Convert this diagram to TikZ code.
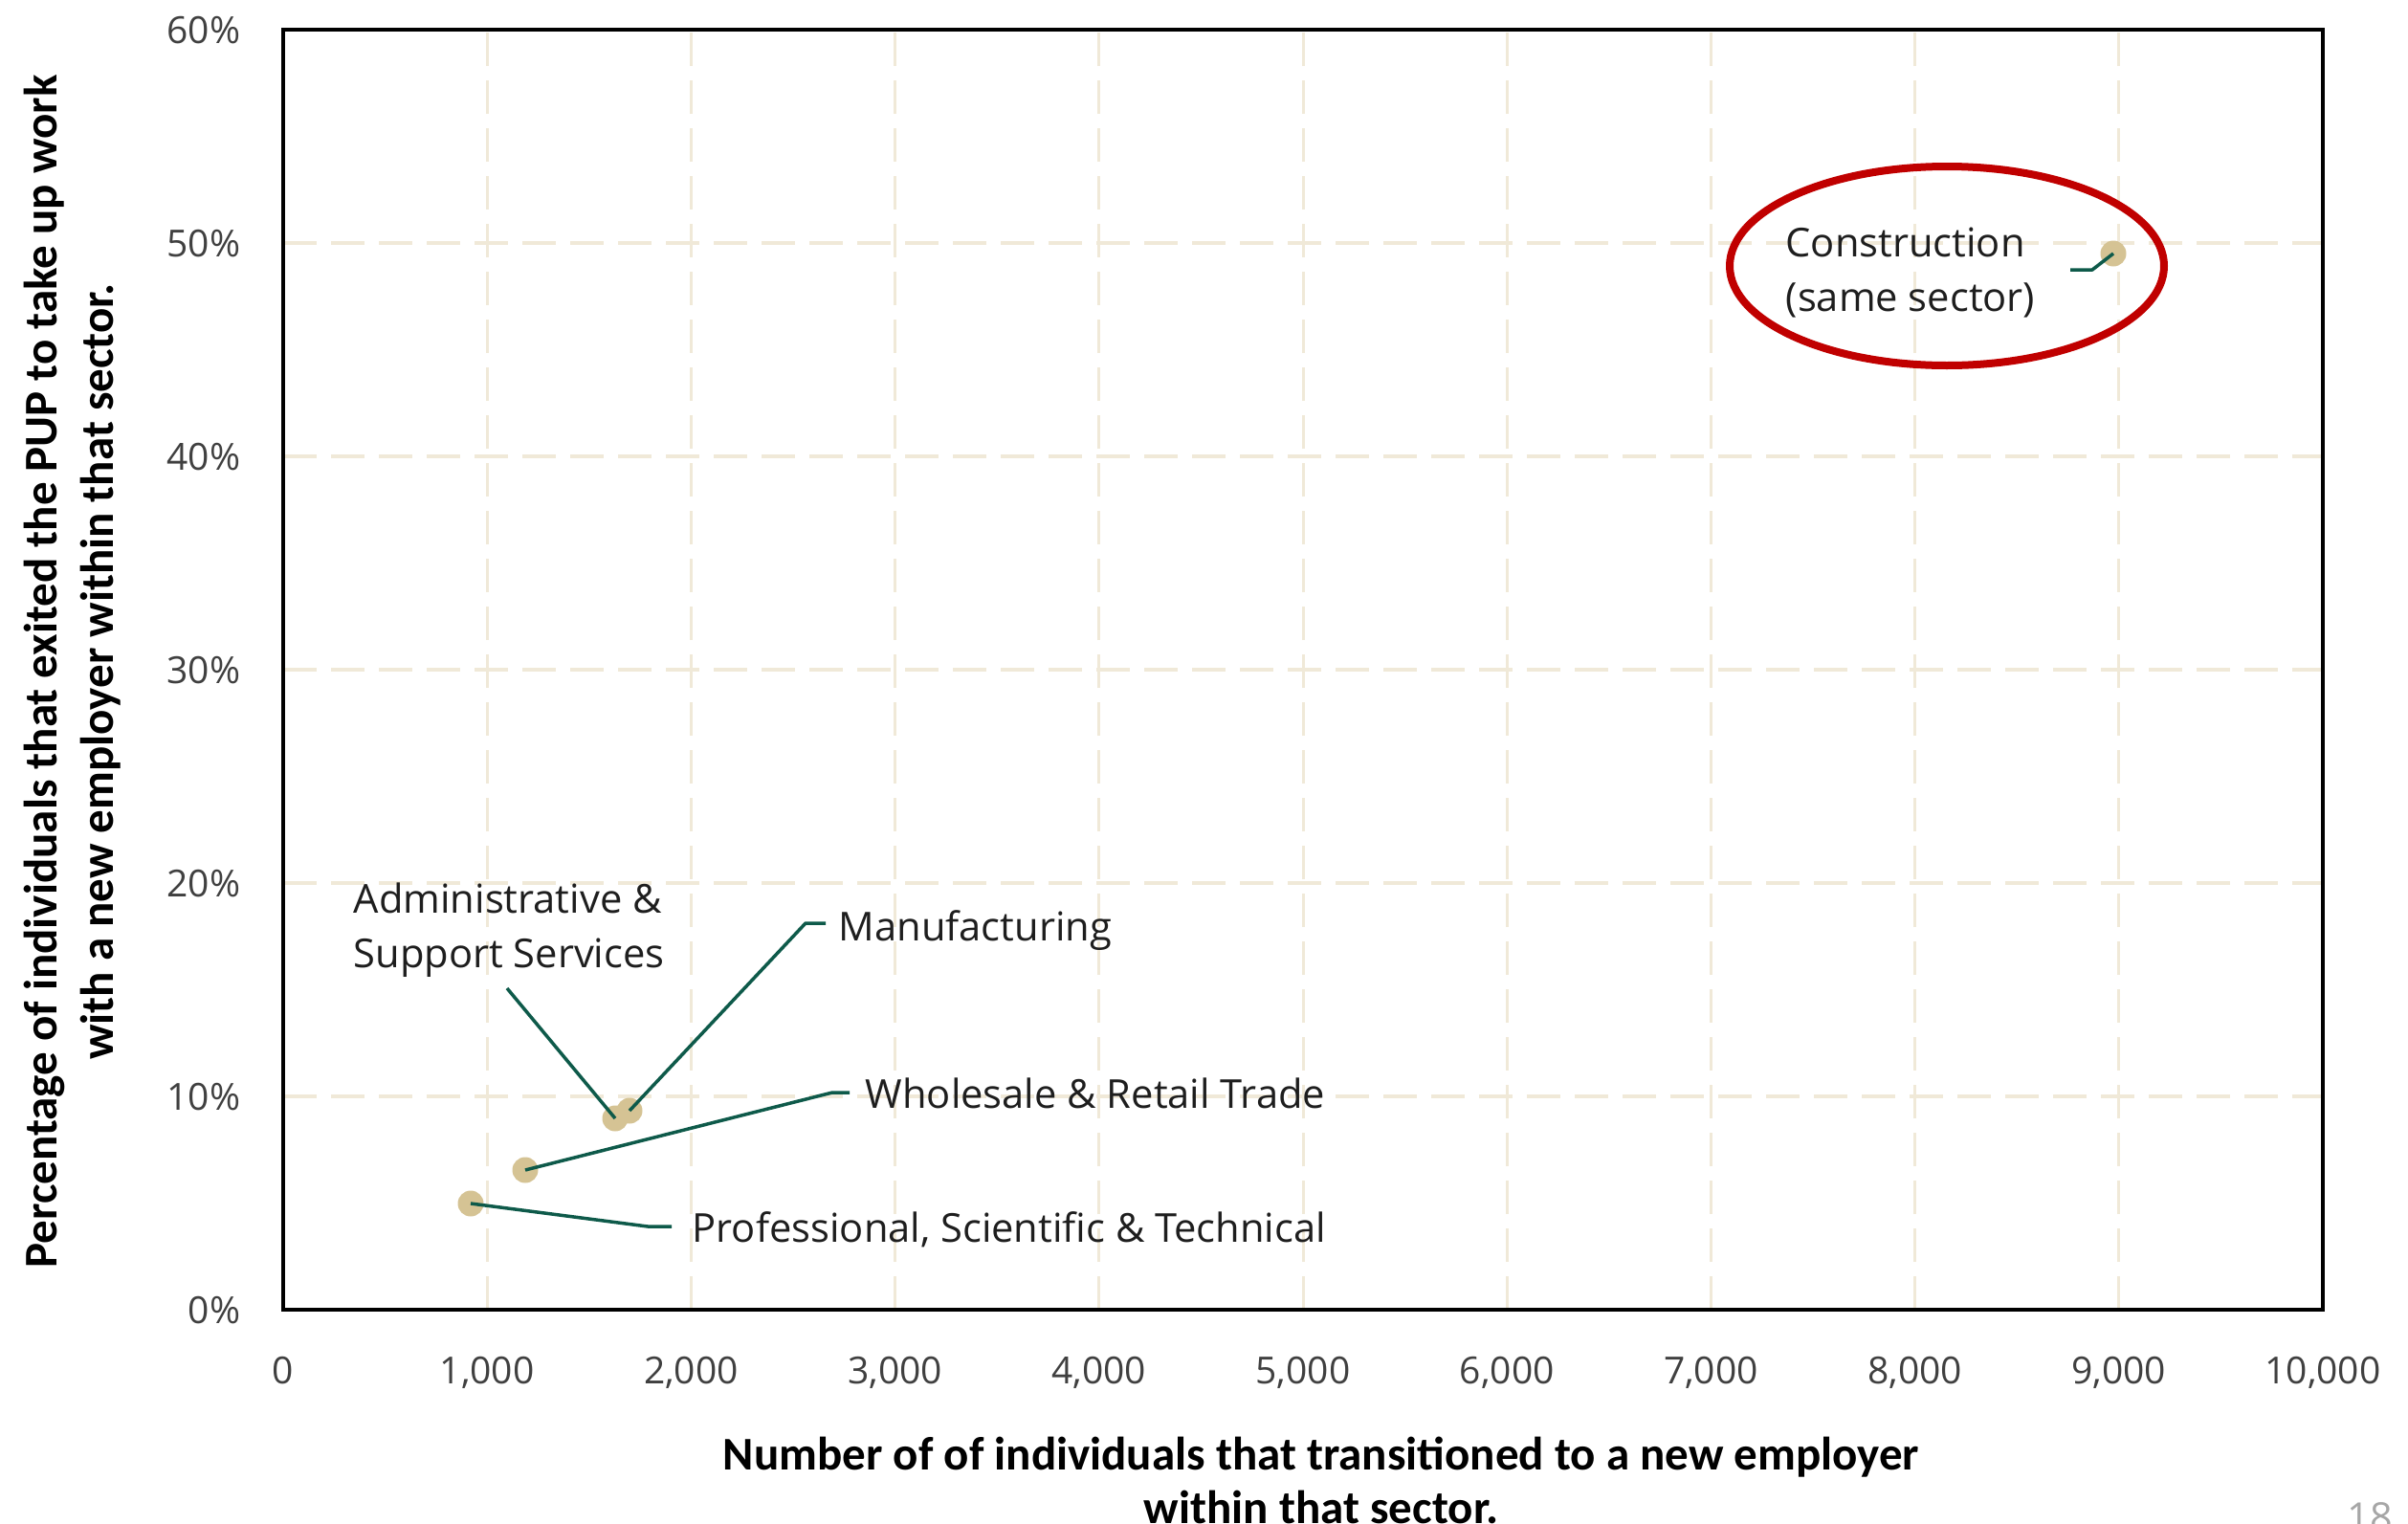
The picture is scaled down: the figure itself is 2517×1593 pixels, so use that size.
\documentclass[tikz,border=0pt]{standalone}
\usepackage{fontspec}
\setmainfont{Open Sans}
\newfontfamily\carlito{Carlito}
\usetikzlibrary{shapes.geometric}
\definecolor{gridc}{RGB}{240,233,216}
\definecolor{dotc}{RGB}{213,195,148}
\definecolor{leadc}{RGB}{14,90,74}
\definecolor{redc}{RGB}{192,0,0}
\definecolor{tickc}{RGB}{64,64,64}
\definecolor{labc}{RGB}{30,30,30}
\definecolor{pagec}{RGB}{166,166,166}
\begin{document}
\begin{tikzpicture}[x=0.3pt,y=-0.3pt,
  gridline/.style={draw=gridc, line width=1.05pt, dash pattern=on 10.5pt off 4.5pt},
  vgridline/.style={gridline, line width=0.9pt},
  frame/.style={draw=black, line width=1.35pt},
  dot/.style={circle, fill=dotc, minimum size=8.1pt, inner sep=0pt},
  leader/.style={draw=leadc, line width=1.05pt, line join=round},
  lab/.style={font=\fontsize{12.5pt}{17.1pt}\selectfont, text=labc, inner sep=0pt, anchor=base west},
  xtick/.style={font=\fontsize{11.7pt}{14pt}\selectfont, text=tickc, inner sep=0pt, anchor=base},
  ytick/.style={font=\fontsize{11.7pt}{14pt}\selectfont, text=tickc, inner sep=0pt, anchor=base east},
  axtitle/.style={font=\carlito\bfseries\fontsize{14.7pt}{17pt}\selectfont, text=black, inner sep=0pt, anchor=base},
  hilite/.style={draw=redc, line width=2.4pt}
]
\useasboundingbox (0,0) rectangle (2517,1593);
% grid
\foreach \y in {254,477,700,923,1146}
  \draw[gridline] (296,\y) -- (2428,\y);
\foreach \x in {509.2,722.4,935.6,1148.8,1362,1575.2,1788.4,2001.6,2214.8}
  \draw[vgridline] (\x,1369) -- (\x,31);
% frame
\draw[frame] (296,31) rectangle (2428,1369);
% y ticks
\foreach \p/\y in {0/1369,10/1146,20/923,30/700,40/477,50/254,60/31}
  \node[ytick] (yt\p) at (252,\y+14) {\p\%};
% x ticks
\node[xtick] (xt0) at (296,1446) {0};
\node[xtick] (xt1k) at (509.2,1446) {1,000};
\node[xtick] (xt2k) at (722.4,1446) {2,000};
\node[xtick] (xt3k) at (935.6,1446) {3,000};
\node[xtick] (xt4k) at (1148.8,1446) {4,000};
\node[xtick] (xt5k) at (1362,1446) {5,000};
\node[xtick] (xt6k) at (1575.2,1446) {6,000};
\node[xtick] (xt7k) at (1788.4,1446) {7,000};
\node[xtick] (xt8k) at (2001.6,1446) {8,000};
\node[xtick] (xt9k) at (2214.8,1446) {9,000};
\node[xtick] (xt10k) at (2428,1446) {10,000};
% axis titles
\node[axtitle] (xtitleA) at (1381,1536) {Number of of individuals that transitioned to a new employer};
\node[axtitle] (xtitleB) at (1381,1592) {within that sector.};
\node[axtitle, rotate=90] (ytitleA) at (60,702) {Percentage of individuals that exited the PUP to take up work};
\node[axtitle, rotate=90] (ytitleB) at (118,702) {with a new employer within that sector.};
% dots
\node[dot] (prof) at (492,1258) {};
\node[dot] (whol) at (549,1223) {};
\node[dot] (admin) at (643,1169) {};
\node[dot] (manu) at (658,1161) {};
\node[dot] (cons) at (2209,265) {};
% labels
\node[lab] (lprof) at (723,1298) {Professional, Scientific \& Technical};
\node[lab] (lwhol) at (904,1158) {Wholesale \& Retail Trade};
\node[lab] (lmanu) at (876,983) {Manufacturing};
\node[lab] (ladminA) at (369,954) {Administrative \&};
\node[lab] (ladminB) at (369,1011) {Support Services};
\node[lab] (lconsA) at (1866,268) {Construction};
\node[lab] (lconsB) at (1866,325) {(same sector)};
% leader lines
\coordinate (pb) at (677,1282); \coordinate (pe) at (702,1282);
\coordinate (wb) at (870,1142); \coordinate (we) at (888,1142);
\coordinate (mb) at (842,965);  \coordinate (me) at (863,965);
\coordinate (ab) at (530,1033);
\coordinate (cb) at (2187,282); \coordinate (ce) at (2164,282);
\draw[leader] (prof.center) -- (pb) -- (pe);
\draw[leader] (whol.center) -- (wb) -- (we);
\draw[leader] (manu.center) -- (mb) -- (me);
\draw[leader] (ab) -- (admin.center);
\draw[leader] (cons.center) -- (cb) -- (ce);
% highlight ellipse
\draw[hilite] (2035,278) ellipse [x radius=68.1pt, y radius=31.2pt];
% page number
\node[font=\fontsize{12.4pt}{14pt}\selectfont, text=pagec, anchor=base west, inner sep=0pt] (pg) at (2453,1600) {18};
\end{tikzpicture}
\end{document}
